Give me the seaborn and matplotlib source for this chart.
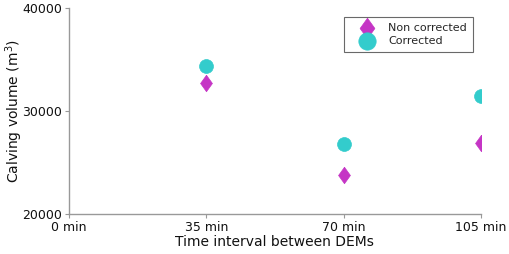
import matplotlib
matplotlib.use("Agg")
import matplotlib.pyplot as plt
import seaborn as sns
import pandas as pd

intervals = [35, 70, 105]
non_corrected = [32750, 23750, 26900]
corrected = [34400, 26800, 31500]
xtick_vals = [0, 35, 70, 105]
xtick_labels = ["0 min", "35 min", "70 min", "105 min"]
ytick_vals = [20000, 30000, 40000]

df = pd.DataFrame({
    "x": intervals * 2,
    "y": non_corrected + corrected,
    "series": ["Non corrected"] * 3 + ["Corrected"] * 3,
})

sns.set_style("white")
plt.rcParams['font.family'] = ['DejaVu Sans']

fig = plt.figure(figsize=(5.1, 2.54), dpi=100)
ax = fig.add_axes([0.135, 0.157, 0.808, 0.812])

diamond = [(0, 1), (0.72, 0), (0, -1), (-0.72, 0), (0, 1)]
palette = {"Non corrected": "#c535c5", "Corrected": "#33cccc"}
markers = {"Non corrected": diamond, "Corrected": "o"}
sizes_map = {"Non corrected": 140, "Corrected": 100}
for name in ["Non corrected", "Corrected"]:
    sub = df[df["series"] == name]
    sns.scatterplot(data=sub, x="x", y="y", ax=ax, color=palette[name],
                    marker=markers[name], s=sizes_map[name], edgecolor=palette[name],
                    linewidth=0.5, label=name)

ax.set_xlim(0, 105)
ax.set_ylim(20000, 40000)
ax.set_xticks(xtick_vals)
ax.set_xticklabels(xtick_labels)
ax.set_yticks(ytick_vals)
ax.set_xlabel("Time interval between DEMs", fontsize=10, labelpad=1, color="#111111")
ax.set_ylabel("Calving volume (m$^3$)", fontsize=10, color="#111111")
ax.yaxis.set_label_coords(-0.106, 0.5)
ax.tick_params(axis='both', labelsize=9, labelcolor='#111111', color='#999999',
               length=3, width=0.8, direction='out', bottom=True, left=True, pad=2)
for s in ["top", "right"]:
    ax.spines[s].set_visible(False)
for s in ["left", "bottom"]:
    ax.spines[s].set_color("#999999")
    ax.spines[s].set_linewidth(1.0)

leg = ax.legend(loc="upper right", bbox_to_anchor=(0.98, 0.955), frameon=True, fancybox=False,
                fontsize=8, borderpad=0.5, handletextpad=0.45, labelspacing=0.3,
                borderaxespad=0.0, handlelength=3.0, markerscale=1.25)
leg.get_frame().set_edgecolor("#444444")
leg.get_frame().set_linewidth(0.8)

fig.savefig("out.png", dpi=100)
